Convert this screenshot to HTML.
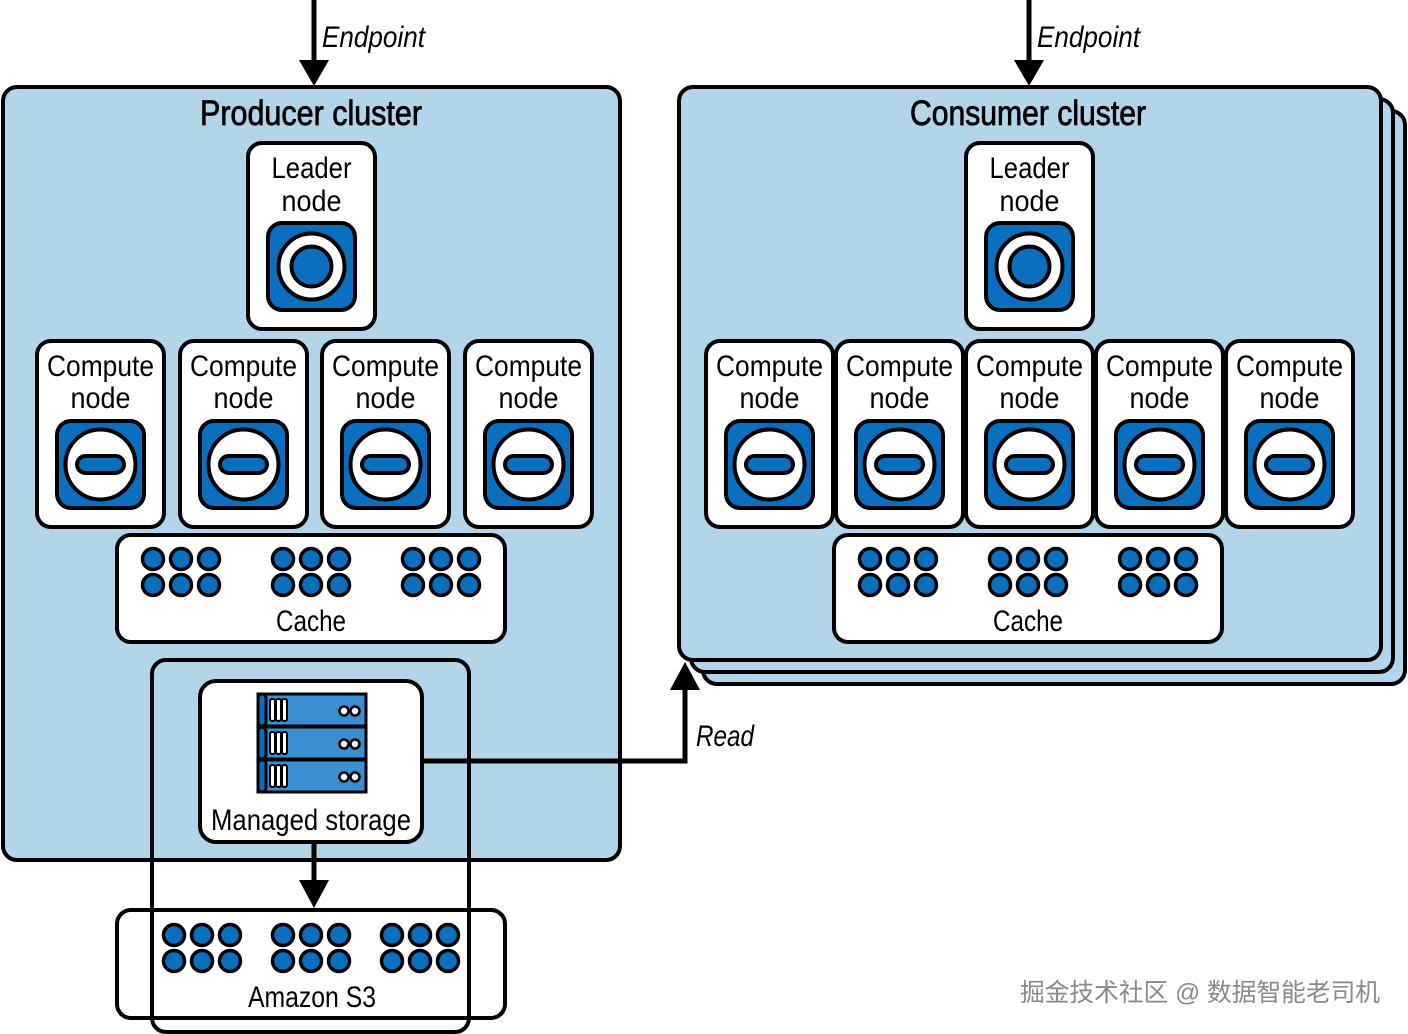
<!DOCTYPE html>
<html><head><meta charset="utf-8"><style>
html,body{margin:0;padding:0;background:#fff}
svg{display:block}
text{font-family:"Liberation Sans","Noto Sans CJK SC",sans-serif;fill:#000}
</style></head><body>
<svg width="1408" height="1034" viewBox="0 0 1408 1034" xmlns="http://www.w3.org/2000/svg">
<defs>
  <g id="leader">
    <rect x="0" y="0" width="87" height="87" rx="14" fill="#0b6fbf" stroke="#000" stroke-width="4"/>
    <circle cx="43.5" cy="43.5" r="33" fill="#fff" stroke="#000" stroke-width="4"/>
    <circle cx="43.5" cy="43.5" r="20" fill="#0b6fbf" stroke="#000" stroke-width="4"/>
  </g>
  <g id="comp">
    <rect x="0" y="0" width="87" height="87" rx="14" fill="#0b6fbf" stroke="#000" stroke-width="4"/>
    <circle cx="43.5" cy="43.5" r="35" fill="#fff" stroke="#000" stroke-width="4"/>
    <rect x="20" y="35" width="47" height="17" rx="8.5" fill="#0b6fbf" stroke="#000" stroke-width="4"/>
  </g>
  <g id="dots">
    <g fill="#0b6fbf" stroke="#000" stroke-width="3.5">
      <circle cx="-28" cy="0" r="10.5"/><circle cx="0" cy="0" r="10.5"/><circle cx="28" cy="0" r="10.5"/>
      <circle cx="-28" cy="26" r="10.5"/><circle cx="0" cy="26" r="10.5"/><circle cx="28" cy="26" r="10.5"/>
    </g>
  </g>
  <g id="cnode">
    <rect x="0" y="0" width="127" height="186" rx="14" fill="#fff" stroke="#000" stroke-width="4"/>
    <text x="63.5" y="35" font-size="30" text-anchor="middle" textLength="107" lengthAdjust="spacingAndGlyphs">Compute</text>
    <text x="63.5" y="67" font-size="30" text-anchor="middle" textLength="60" lengthAdjust="spacingAndGlyphs">node</text>
    <use href="#comp" x="20" y="80"/>
  </g>
  <g id="srow">
    <rect x="0" y="0" width="108" height="32" fill="#3a8fd0" stroke="#000" stroke-width="3"/>
    <rect x="0" y="0" width="8" height="32" rx="4" fill="#0b6fbf" stroke="#000" stroke-width="3"/>
    <rect x="12" y="5" width="5" height="22" rx="2" fill="#fff" stroke="#000" stroke-width="2"/>
    <rect x="18" y="5" width="5" height="22" rx="2" fill="#fff" stroke="#000" stroke-width="2"/>
    <rect x="24" y="5" width="5" height="22" rx="2" fill="#fff" stroke="#000" stroke-width="2"/>
    <circle cx="86" cy="17" r="4.5" fill="#fff" stroke="#000" stroke-width="2.5"/>
    <circle cx="97" cy="17" r="4.5" fill="#fff" stroke="#000" stroke-width="2.5"/>
  </g>
</defs>

<!-- Endpoints -->
<line x1="314" y1="0" x2="314" y2="64" stroke="#000" stroke-width="5"/>
<polygon points="299,60 329,60 314,86" fill="#000"/>
<text x="322" y="47" font-size="30" font-style="italic" textLength="103" lengthAdjust="spacingAndGlyphs">Endpoint</text>
<line x1="1029" y1="0" x2="1029" y2="64" stroke="#000" stroke-width="5"/>
<polygon points="1014,60 1044,60 1029,86" fill="#000"/>
<text x="1037" y="47" font-size="30" font-style="italic" textLength="103" lengthAdjust="spacingAndGlyphs">Endpoint</text>

<!-- Producer cluster -->
<rect x="3" y="87" width="617" height="773" rx="14" fill="#b3d5ea" stroke="#000" stroke-width="4"/>
<text x="311" y="125" font-size="35" text-anchor="middle" stroke="#000" stroke-width="0.8" textLength="222" lengthAdjust="spacingAndGlyphs">Producer cluster</text>
<rect x="248" y="143" width="127" height="186" rx="14" fill="#fff" stroke="#000" stroke-width="4"/>
<text x="311.5" y="178" font-size="30" text-anchor="middle" textLength="80" lengthAdjust="spacingAndGlyphs">Leader</text>
<text x="311.5" y="211" font-size="30" text-anchor="middle" textLength="60" lengthAdjust="spacingAndGlyphs">node</text>
<use href="#leader" x="268" y="223"/>
<use href="#cnode" x="37" y="341"/>
<use href="#cnode" x="180" y="341"/>
<use href="#cnode" x="322" y="341"/>
<use href="#cnode" x="465" y="341"/>
<rect x="117" y="535" width="388" height="107" rx="14" fill="#fff" stroke="#000" stroke-width="4"/>
<use href="#dots" x="181" y="559"/><use href="#dots" x="311" y="559"/><use href="#dots" x="441" y="559"/>
<text x="311" y="631" font-size="30" text-anchor="middle" textLength="70" lengthAdjust="spacingAndGlyphs">Cache</text>

<!-- Consumer cluster stack -->
<rect x="703" y="111" width="702" height="573" rx="14" fill="#b3d5ea" stroke="#000" stroke-width="4"/>
<rect x="691" y="99" width="702" height="573" rx="14" fill="#b3d5ea" stroke="#000" stroke-width="4"/>
<rect x="679" y="87" width="702" height="573" rx="14" fill="#b3d5ea" stroke="#000" stroke-width="4"/>
<text x="1028" y="125" font-size="35" text-anchor="middle" stroke="#000" stroke-width="0.8" textLength="236" lengthAdjust="spacingAndGlyphs">Consumer cluster</text>
<rect x="966" y="143" width="127" height="186" rx="14" fill="#fff" stroke="#000" stroke-width="4"/>
<text x="1029.5" y="178" font-size="30" text-anchor="middle" textLength="80" lengthAdjust="spacingAndGlyphs">Leader</text>
<text x="1029.5" y="211" font-size="30" text-anchor="middle" textLength="60" lengthAdjust="spacingAndGlyphs">node</text>
<use href="#leader" x="986" y="223"/>
<use href="#cnode" x="706" y="341"/>
<use href="#cnode" x="836" y="341"/>
<use href="#cnode" x="966" y="341"/>
<use href="#cnode" x="1096" y="341"/>
<use href="#cnode" x="1226" y="341"/>
<rect x="834" y="535" width="388" height="107" rx="14" fill="#fff" stroke="#000" stroke-width="4"/>
<use href="#dots" x="898" y="559"/><use href="#dots" x="1028" y="559"/><use href="#dots" x="1158" y="559"/>
<text x="1028" y="631" font-size="30" text-anchor="middle" textLength="70" lengthAdjust="spacingAndGlyphs">Cache</text>

<!-- Read connector -->
<polyline points="422,761 685,761 685,686" fill="none" stroke="#000" stroke-width="5"/>
<polygon points="670,690 700,690 685,662" fill="#000"/>
<text x="696" y="746" font-size="30" font-style="italic" textLength="58" lengthAdjust="spacingAndGlyphs">Read</text>

<!-- S3 -->
<rect x="117" y="910" width="388" height="108" rx="14" fill="#fff" stroke="#000" stroke-width="4"/>
<use href="#dots" x="202" y="935"/><use href="#dots" x="311" y="935"/><use href="#dots" x="420" y="935"/>
<text x="312" y="1007" font-size="30" text-anchor="middle" textLength="128" lengthAdjust="spacingAndGlyphs">Amazon S3</text>

<!-- Managed storage frame -->
<rect x="152" y="660" width="317" height="372" rx="14" fill="none" stroke="#000" stroke-width="4"/>
<rect x="200" y="681" width="222" height="161" rx="16" fill="#fff" stroke="#000" stroke-width="4"/>
<use href="#srow" x="258" y="694"/>
<use href="#srow" x="258" y="727"/>
<use href="#srow" x="258" y="760"/>
<text x="311" y="830" font-size="30" text-anchor="middle" textLength="200" lengthAdjust="spacingAndGlyphs">Managed storage</text>
<line x1="314" y1="842" x2="314" y2="884" stroke="#000" stroke-width="5"/>
<polygon points="299,880 329,880 314,908" fill="#000"/>

<!-- watermark -->
<text x="1020" y="1001" font-size="25" style="fill:#8a8a8a" textLength="360" lengthAdjust="spacingAndGlyphs">掘金技术社区 @ 数据智能老司机</text>
</svg>
</body></html>
